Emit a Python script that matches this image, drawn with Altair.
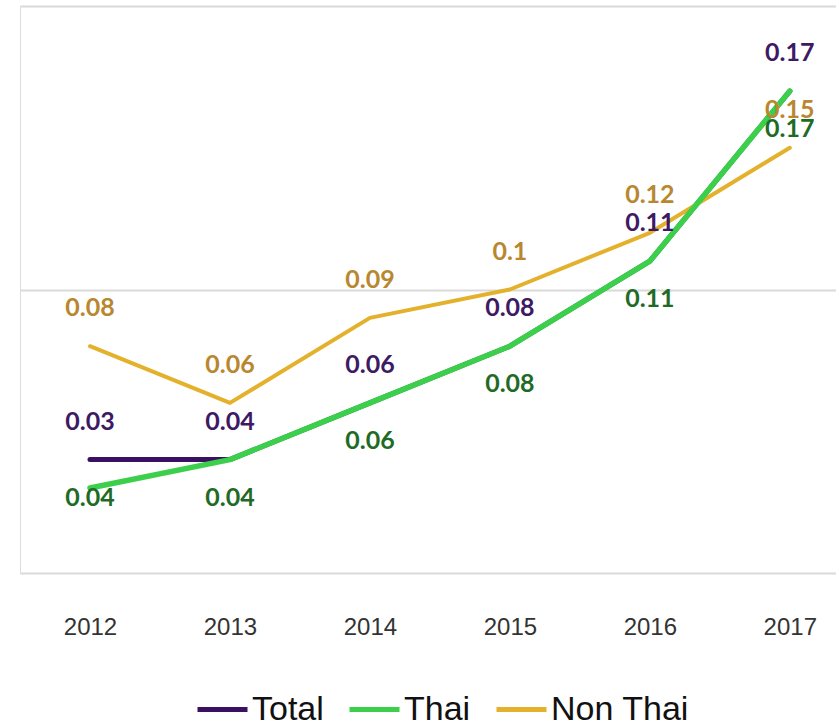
import altair as alt
import pandas as pd

# ---- data ----
years = [2012, 2013, 2014, 2015, 2016, 2017]
series_names = ["Total", "Thai", "Non Thai"]

total = [0.04, 0.04, 0.06, 0.08, 0.11, 0.17]
thai = [0.03, 0.04, 0.06, 0.08, 0.11, 0.17]
non_thai = [0.08, 0.06, 0.09, 0.10, 0.12, 0.15]

# data labels as printed on the chart
total_labels = ["0.03", "0.04", "0.06", "0.08", "0.11", "0.17"]
thai_labels = ["0.04", "0.04", "0.06", "0.08", "0.11", "0.17"]
non_thai_labels = ["0.08", "0.06", "0.09", "0.1", "0.12", "0.15"]

# value each printed label is attached to
total_label_at = [0.04, 0.04, 0.06, 0.08, 0.11, 0.17]
thai_label_at = [0.04, 0.04, 0.06, 0.08, 0.11, 0.17]
non_thai_label_at = [0.08, 0.06, 0.09, 0.10, 0.12, 0.15]

line_colors = ["#3a1063", "#3ccf4c", "#e4b12c"]
label_colors = {"Total": "#3d1a63", "Thai": "#1f6b26", "Non Thai": "#b8872f"}

rows = []
for name, vals, labs, at in [
    ("Total", total, total_labels, total_label_at),
    ("Thai", thai, thai_labels, thai_label_at),
    ("Non Thai", non_thai, non_thai_labels, non_thai_label_at),
]:
    for y, v, l, a in zip(years, vals, labs, at):
        rows.append({"year": y, "series": name, "value": v, "label": l, "label_at": a})
df = pd.DataFrame(rows)

x_enc = alt.X(
    "year:Q",
    scale=alt.Scale(domain=[2011.5, 2017.33], nice=False, zero=False),
    axis=alt.Axis(
        title=None, values=years, format="d", ticks=False, domain=False, grid=False,
        labelFont="Liberation Sans", labelFontSize=24, labelColor="#333333",
        labelPadding=42, labelFlush=False,
    ),
)
y_scale = alt.Scale(domain=[0, 0.2], nice=False, zero=True)
y_axis = alt.Axis(
    title=None, labels=False, ticks=False, domain=False, values=[0, 0.1, 0.2],
    gridColor="#d9d9d9", gridWidth=2,
)
y_enc = alt.Y("value:Q", scale=y_scale, axis=y_axis)

color_enc = alt.Color(
    "series:N",
    scale=alt.Scale(domain=series_names, range=line_colors),
    legend=alt.Legend(
        title=None, orient="none", direction="horizontal", legendX=175, legendY=676,
        symbolType="stroke", symbolSize=2500, symbolStrokeWidth=5,
        labelFont="Liberation Sans", labelFontSize=34, labelColor="#111111",
        labelOffset=2, columnPadding=15, symbolOffset=0, padding=0, gridAlign="none",
    ),
)

base = alt.Chart(df)

layers = []
for name, w in [("Total", 5), ("Non Thai", 4), ("Thai", 5.5)]:
    layers.append(
        base.transform_filter(alt.datum.series == name)
        .mark_line(strokeWidth=w, strokeCap="round", strokeJoin="round")
        .encode(x=x_enc, y=y_enc, color=color_enc)
    )

for name, dy in [("Total", -38), ("Non Thai", -38), ("Thai", 38)]:
    layers.append(
        base.transform_filter(alt.datum.series == name)
        .mark_text(font="Lato", fontWeight="bold", fontSize=25, baseline="middle",
                   align="center", dy=dy, color=label_colors[name])
        .encode(x=x_enc, y=alt.Y("label_at:Q", scale=y_scale, axis=y_axis), text="label:N")
    )

chart = (
    alt.layer(*layers)
    .properties(width=816, height=567, autosize="none",
                padding={"left": 20, "top": 6, "right": 0, "bottom": 148})
    .configure_view(stroke="transparent", strokeWidth=0)
    .configure(background="white")
)

chart.save("out.html", embed_options={"renderer": "svg", "actions": False})
